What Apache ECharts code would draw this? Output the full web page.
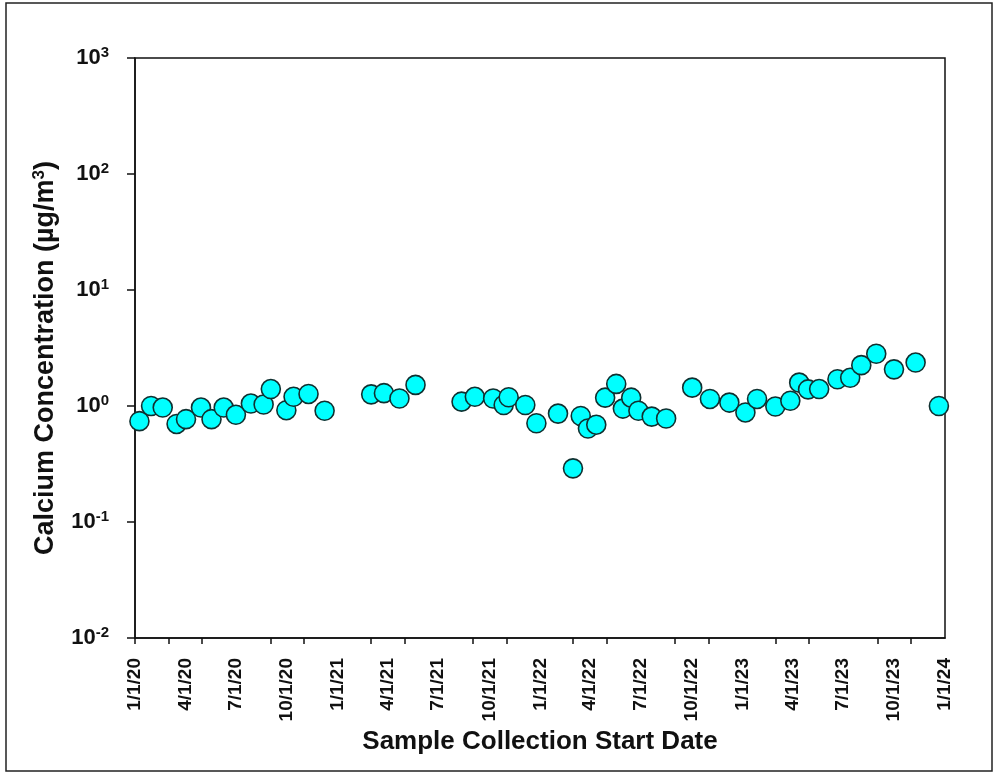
<!DOCTYPE html>
<html>
<head>
<meta charset="utf-8">
<script src="https://cdn.jsdelivr.net/npm/echarts@6/dist/echarts.min.js"></script>
<style>
  html, body { margin: 0; padding: 0; background: #fff; }
  #chart { width: 994px; height: 773px; }
</style>
</head>
<body>
<div id="chart"></div>
<script>
// sample start dates and calcium concentrations (µg/m3)
const sampleDates = [
  '2020-01-09', '2020-01-30', '2020-02-20', '2020-03-16', '2020-04-02', '2020-04-29',
  '2020-05-18', '2020-06-09', '2020-07-01', '2020-07-28', '2020-08-20', '2020-09-02',
  '2020-09-30', '2020-10-13', '2020-11-09', '2020-12-08',
  '2021-03-02', '2021-03-25', '2021-04-22', '2021-05-21', '2021-08-12', '2021-09-05',
  '2021-10-08', '2021-10-27', '2021-11-05', '2021-12-05', '2021-12-25',
  '2022-02-02', '2022-03-01', '2022-03-15', '2022-03-28', '2022-04-12', '2022-04-28',
  '2022-05-18', '2022-05-30', '2022-06-14', '2022-06-27', '2022-07-21', '2022-08-16',
  '2022-10-02', '2022-11-03', '2022-12-08',
  '2023-01-06', '2023-01-27', '2023-03-01', '2023-03-28', '2023-04-13', '2023-04-29',
  '2023-05-19', '2023-06-21', '2023-07-14', '2023-08-03', '2023-08-30', '2023-10-01',
  '2023-11-09', '2023-12-21'
];
const calcium = [
  0.74, 1.0, 0.97, 0.70, 0.77, 0.97,
  0.77, 0.97, 0.84, 1.05, 1.03, 1.40,
  0.92, 1.20, 1.27, 0.91,
  1.26, 1.29, 1.16, 1.52, 1.09, 1.20,
  1.16, 1.02, 1.19, 1.02, 0.71,
  0.86, 0.29, 0.82, 0.64, 0.69, 1.18,
  1.55, 0.95, 1.18, 0.91, 0.81, 0.78,
  1.44, 1.15, 1.07,
  0.88, 1.15, 0.99, 1.11, 1.59, 1.39,
  1.40, 1.70, 1.75, 2.25, 2.82, 2.07,
  2.37, 1.0
];
// labelled dates and tick dates on the x axis
const labelDates = [
  '2020-01-01', '2020-04-01', '2020-07-01', '2020-10-01',
  '2021-01-01', '2021-04-01', '2021-07-01', '2021-10-01',
  '2022-01-01', '2022-04-01', '2022-07-01', '2022-10-01',
  '2023-01-01', '2023-04-01', '2023-07-01', '2023-10-01', '2024-01-01'
];
const tickDates = [
  '2020-01-01', '2020-03-01', '2020-05-01', '2020-09-01', '2020-11-01',
  '2021-03-01', '2021-05-01', '2021-09-01', '2021-11-01',
  '2022-03-01', '2022-05-01', '2022-09-01', '2022-11-01',
  '2023-03-01', '2023-05-01', '2023-09-01', '2023-11-01'
];

function ts(s) {
  const p = s.split('-');
  return Date.UTC(+p[0], +p[1] - 1, +p[2]);
}

const font = "'Liberation Sans', Arial, sans-serif";
const points = sampleDates.map((d, i) => [ts(d), calcium[i]]);

const chart = echarts.init(document.getElementById('chart'));
chart.setOption({
  animation: false,
  grid: {
    left: 135, top: 58, right: 49, bottom: 135,
    show: true,
    borderColor: '#111',
    borderWidth: 1.5
  },
  xAxis: {
    type: 'value',
    min: ts('2020-01-01'),
    max: ts('2024-01-01'),
    name: 'Sample Collection Start Date',
    nameLocation: 'middle',
    nameGap: 90,
    nameTextStyle: { fontFamily: font, fontWeight: 'bold', fontSize: 26, color: '#111' },
    splitLine: { show: false },
    axisLine: { show: true, onZero: false, lineStyle: { color: '#111', width: 1.5 } },
    axisTick: {
      show: true,
      length: 6,
      customValues: tickDates.map(ts),
      lineStyle: { color: '#111', width: 1.5 }
    },
    axisLabel: {
      rotate: 90,
      margin: 20,
      customValues: labelDates.map(ts),
      fontFamily: font,
      fontWeight: 'bold',
      fontSize: 19,
      color: '#111',
      formatter: v => {
        const d = new Date(v);
        return (d.getUTCMonth() + 1) + '/' + d.getUTCDate() + '/' + String(d.getUTCFullYear()).slice(2);
      }
    }
  },
  yAxis: {
    type: 'log',
    logBase: 10,
    min: 0.01,
    max: 1000,
    name: 'Calcium Concentration (µg/m{sup|3})',
    nameLocation: 'middle',
    nameGap: 75,
    nameTextStyle: {
      fontFamily: font, fontWeight: 'bold', fontSize: 27, color: '#111',
      padding: [0, 20, 0, 0],
      rich: {
        sup: { fontFamily: font, fontWeight: 'bold', fontSize: 17, color: '#111', verticalAlign: 'top', padding: [0, 0, 12, 0] }
      }
    },
    splitLine: { show: false },
    minorTick: { show: false },
    axisLine: { show: true, lineStyle: { color: '#111', width: 1.5 } },
    axisTick: { show: true, length: 8, lineStyle: { color: '#111', width: 1.5 } },
    axisLabel: {
      margin: 26,
      fontFamily: font,
      fontWeight: 'bold',
      fontSize: 22,
      color: '#111',
      formatter: v => '10{sup|' + Math.round(Math.log10(v)) + '}',
      rich: {
        sup: { fontFamily: font, fontWeight: 'bold', fontSize: 15, color: '#111', verticalAlign: 'top', padding: [0, 0, 10, 0] }
      }
    }
  },
  graphic: [{
    type: 'rect',
    shape: { x: 6, y: 3, width: 986, height: 768 },
    style: { fill: null, stroke: '#222', lineWidth: 1.5 },
    silent: true
  }],
  series: [{
    type: 'scatter',
    data: points,
    symbol: 'circle',
    symbolSize: 19,
    itemStyle: { color: '#00FFFF', borderColor: '#103030', borderWidth: 1.6, opacity: 1 }
  }]
});
</script>
</body>
</html>
